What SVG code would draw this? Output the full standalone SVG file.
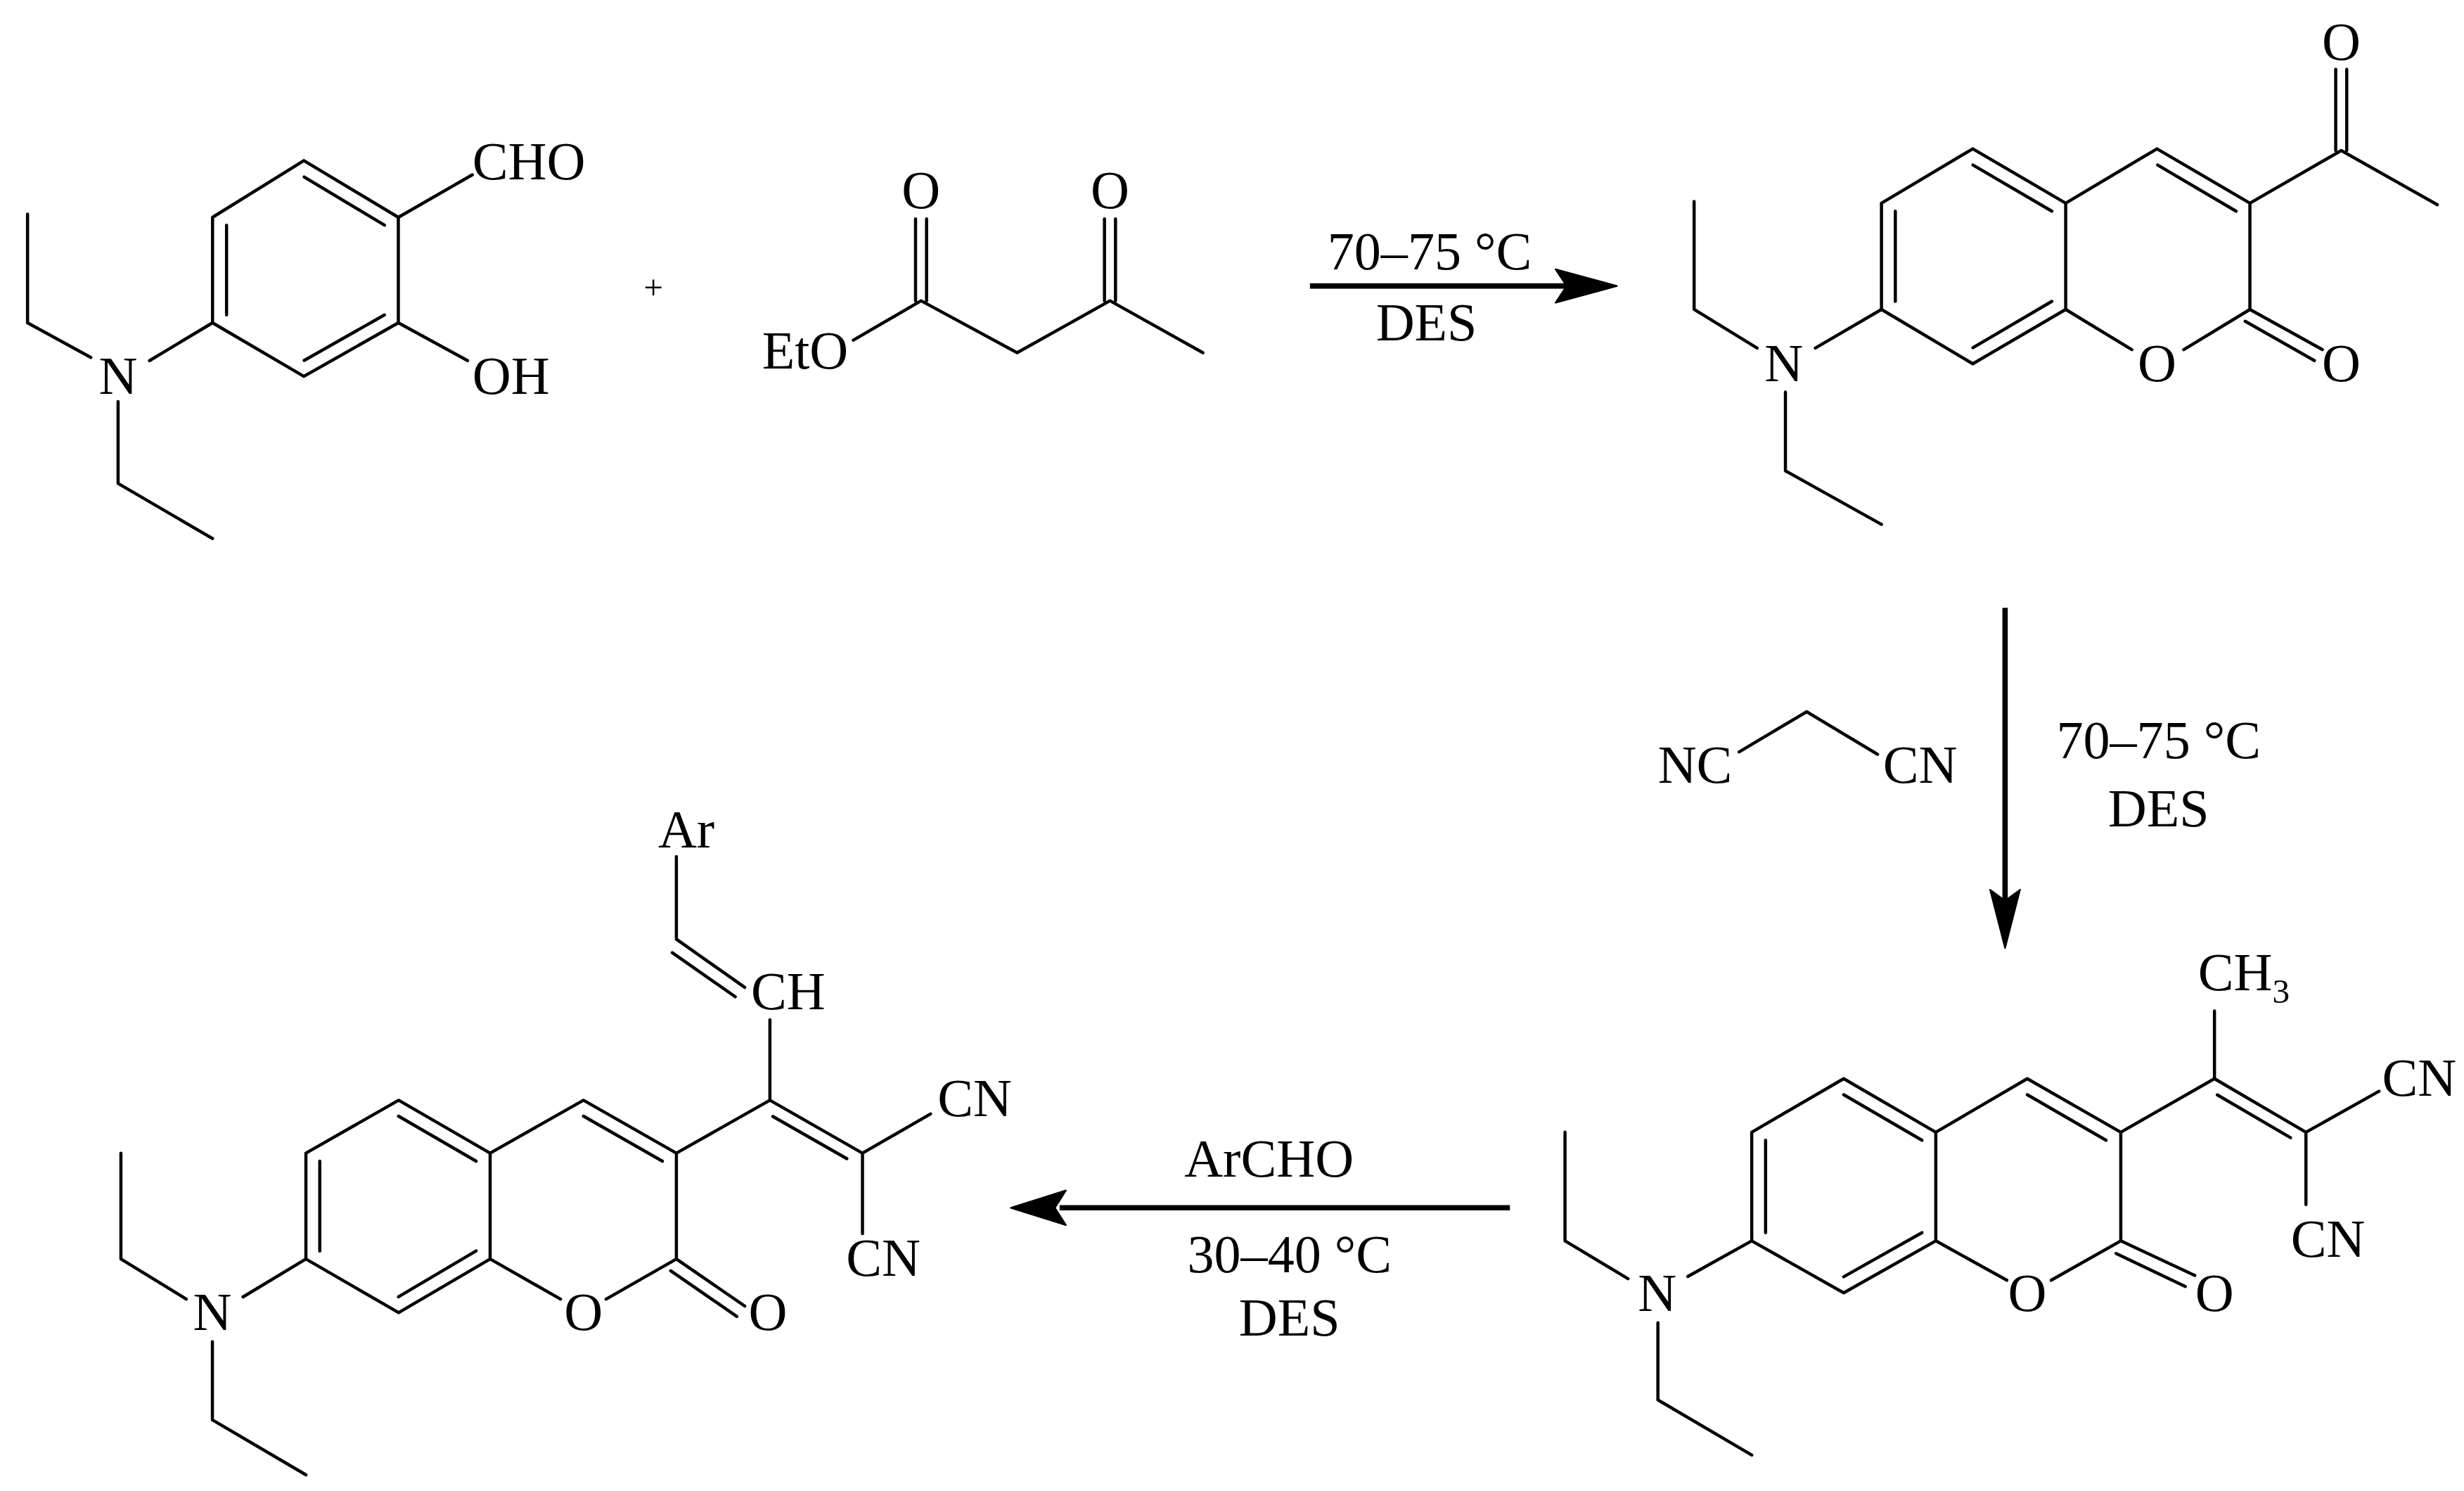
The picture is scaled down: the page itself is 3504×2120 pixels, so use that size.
<svg xmlns="http://www.w3.org/2000/svg" width="3504" height="2120" viewBox="0 0 3504 2120">
<style>
.b{stroke:#000;stroke-width:2;fill:none;stroke-linecap:round;stroke-linejoin:round}
.t{font-family:"Liberation Serif","Times New Roman",serif;font-size:34px;fill:#000}
.m{text-anchor:middle}
.s{font-size:22px}
.ar{stroke:#000;stroke-width:3.4;fill:none}
.hd{fill:#000;stroke:#000;stroke-width:1;stroke-linejoin:round}
</style>
<rect width="3504" height="2120" fill="#fff"/>
<g transform="scale(2.2390)">
<g id="salicylaldehyde">
<path class="b" d="M193,102 L253,138 L253,205 L193,239 L135,205 L135,138 Z"/>
<path class="b" d="M193.2,112.4 L244.2,143 M244.2,200 L193.2,228.9 M143.9,200 L143.9,143"/>
<path class="b" d="M253,138 L300,111 M253,205 L297,229 M135,205 L95,229 M57.7,227 L17.5,205 L17.5,136 M75,255 L75,307 L135,342"/>
<text class="t" x="300" y="114">CHO</text>
<text class="t" x="300" y="250">OH</text>
<text class="t m" x="75" y="250">N</text>
</g>
<g id="plus"><text class="t m s" x="415" y="190">+</text></g>
<g id="ethyl-acetoacetate">
<path class="b" d="M542,216 L585,191 L646,224 L705,191 L764,224 M581.5,139 L581.5,191 M588.5,139 L588.5,191 M701.5,139 L701.5,191 M708.5,139 L708.5,191"/>
<text class="t" x="484" y="234">EtO</text>
<text class="t m" x="585" y="132">O</text>
<text class="t m" x="705" y="132">O</text>
</g>
<g id="acetylcoumarin">
<path class="b" d="M1195,129 L1253,94.5 L1312,129 L1312,196.5 L1253,231 L1195,196.5 Z M1312,129 L1370,94.5 L1429,129 L1429,196.5"/>
<path class="b" d="M1253.1,104.8 L1303.2,134.1 M1203.8,134.1 L1203.8,191.4 M1253.1,220.8 L1303.2,191.4 M1370.4,104.8 L1420.2,134.1"/>
<path class="b" d="M1312,196.5 L1354,222 M1429,196.5 L1387,222 M1429,196.5 L1475,222 M1426,204 L1470,229"/>
<path class="b" d="M1429,129 L1487,95.6 L1548,130 M1483.5,44 L1483.5,95.6 M1490.5,44 L1490.5,95.6"/>
<path class="b" d="M1195,196.5 L1153,221 M1116,221 L1076,196.5 L1076,128 M1134,249 L1134,299 L1195,333"/>
<text class="t m" x="1370" y="242">O</text>
<text class="t m" x="1487" y="242">O</text>
<text class="t m" x="1487" y="38">O</text>
<text class="t m" x="1133" y="242">N</text>
</g>
<g id="malononitrile">
<path class="b" d="M1104.6,477.5 L1147.5,452 L1192.5,479"/>
<text class="t" x="1053" y="497">NC</text>
<text class="t" x="1196" y="497">CN</text>
</g>
<g id="dicyanovinylcoumarin">
<path class="b" d="M1112.6,719 L1171,685 L1229.5,719 L1229.5,788 L1171,821 L1112.6,788 Z M1229.5,719 L1287.6,685 L1347,719 L1347,788"/>
<path class="b" d="M1171,695.2 L1220.7,724.1 M1121.4,724.1 L1121.4,782.8 M1171,810.8 L1220.7,782.8 M1287.6,695.2 L1337.6,724.1"/>
<path class="b" d="M1229.5,788 L1274.6,813 M1347,788 L1302.8,813 M1347,788 L1394,810 M1344,796 L1388,817"/>
<path class="b" d="M1347,719 L1406.5,685 L1406.5,642 M1406.5,685 L1464.6,719 M1408.3,695.3 L1454.8,722.5 M1464.6,719 L1511,693 M1464.6,719 L1464.6,765"/>
<path class="b" d="M1112.6,788 L1072,810.6 M1034,812 L994,788 L994,719 M1053,840 L1053,889 L1112.6,924"/>
<text class="t m" x="1287.6" y="832.5">O</text>
<text class="t m" x="1406.5" y="832.5">O</text>
<text class="t m" x="1052.6" y="832.5">N</text>
<text class="t" x="1396" y="629">CH<tspan class="s" dy="8">3</tspan></text>
<text class="t" x="1513" y="696">CN</text>
<text class="t" x="1455" y="798">CN</text>
</g>
<g id="product">
<path class="b" d="M194.3,732.3 L253.2,698.7 L311.3,732.3 L311.3,799.5 L253.2,833.6 L194.3,799.5 Z M311.3,732.3 L370.6,698.7 L429.6,732.3 L429.6,799.5"/>
<path class="b" d="M253.1,708.8 L302.4,737.4 M203.1,737.4 L203.1,794.4 M253.1,823.5 L302.4,794.4 M370.6,708.8 L420.7,737.4"/>
<path class="b" d="M311.3,799.5 L356,825 M429.6,799.5 L385,825 M429.6,799.5 L473,829.4 M426,807 L468,836"/>
<path class="b" d="M429.6,732.3 L489,698.7 L489,647.6 M473,627 L429.6,596.4 L429.6,544 M427,605 L467,633"/>
<path class="b" d="M489,698.7 L547.8,732.3 M490.9,709 L537.9,735.8 M547.8,732.3 L591,707.4 M547.8,732.3 L547.8,783.4"/>
<path class="b" d="M194.3,799.5 L154.4,823.6 M118.3,825 L76.8,799.5 L76.8,732.3 M134.9,852 L134.9,901.7 L194.3,936.6"/>
<text class="t m" x="370.6" y="844.6">O</text>
<text class="t m" x="487.7" y="844.6">O</text>
<text class="t m" x="134.9" y="844.6">N</text>
<text class="t" x="477" y="641">CH</text>
<text class="t" x="418" y="538">Ar</text>
<text class="t" x="595.5" y="709">CN</text>
<text class="t" x="537.4" y="810">CN</text>
</g>
<g id="connectors">
<line class="ar" x1="832" y1="181.6" x2="995" y2="181.6"/>
<polygon class="hd" points="1027,181.6 988,171 995,181.6 988,192.2"/>
<line class="ar" x1="1273.5" y1="386" x2="1273.5" y2="572"/>
<polygon class="hd" points="1273.5,602 1264,565 1273.5,572 1283,565"/>
<line class="ar" x1="959" y1="767" x2="673" y2="767"/>
<polygon class="hd" points="642,767 677,756 670,767 677,778"/>
</g>
<g id="labels">
<text class="t m" x="908" y="171">70–75 °C</text>
<text class="t m" x="906" y="216">DES</text>
<text class="t m" x="1371" y="481.5">70–75 °C</text>
<text class="t m" x="1371" y="524.6">DES</text>
<text class="t m" x="806" y="747">ArCHO</text>
<text class="t m" x="819" y="808">30–40 °C</text>
<text class="t m" x="819" y="848">DES</text>
</g>
</g>
</svg>
